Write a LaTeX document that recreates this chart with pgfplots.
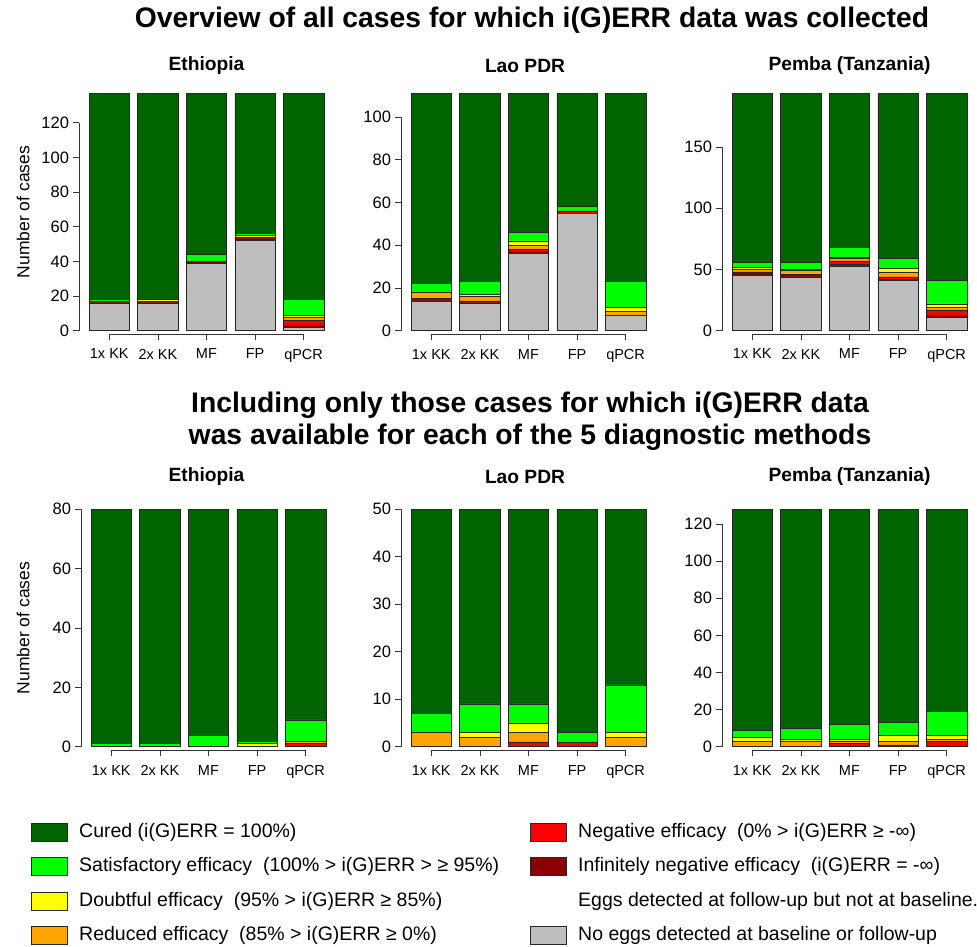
\documentclass[border=0pt]{standalone}
\usepackage{pgfplots}
\pgfplotsset{compat=1.18}
\usepackage{pgfplotstable}
\usepackage{fontspec}
\setmainfont{Liberation Sans}

\definecolor{cured}{HTML}{006400}
\definecolor{satis}{HTML}{00FF00}
\definecolor{doubt}{HTML}{FFFF00}
\definecolor{reduc}{HTML}{FFA500}
\definecolor{neg}{HTML}{FF0000}
\definecolor{infneg}{HTML}{8B0000}
\definecolor{noegg}{HTML}{BEBEBE}

% stack order from the bottom: no eggs, inf. negative, negative, reduced, doubtful, satisfactory, cured
\pgfplotstableread{
x grey dred red orng yell lgrn cure
0 16 1 0 0 0 1 119
1 16 1 0 0 1 0 119
2 39 1 0 0 0 4 93
3 52 2 0 0 1 1 81
4 2 1 3 2 1 9 119
}\topeth
\pgfplotstableread{
x grey dred red orng yell lgrn cure
0 14 1 0 3 0 4 89
1 13 1 0 2 1 6 88
2 36 1 1 2 2 4 65
3 55 0 1 0 0 2 53
4 7 0 0 2 2 12 88
}\toplao
\pgfplotstableread{
x grey dred red orng yell lgrn cure
0 45 3 0 2 2 4 138
1 44 1 1 3 1 6 138
2 53 1 3 2 1 8 126
3 41 1 2 4 3 8 135
4 11 2 4 2 3 19 153
}\toppem
\pgfplotstableread{
x grey dred red orng yell lgrn cure
0 0 0 0 0 0 1 79
1 0 0 0 0 0 1 79
2 0 0 0 0 0 4 76
3 0 0 0 0 1 1 78
4 0 0 1 1 0 7 71
}\boteth
\pgfplotstableread{
x grey dred red orng yell lgrn cure
0 0 0 0 3 0 4 43
1 0 0 0 2 1 6 41
2 0 0 1 2 2 4 41
3 0 0 1 0 0 2 47
4 0 0 0 2 1 10 37
}\botlao
\pgfplotstableread{
x grey dred red orng yell lgrn cure
0 0 0 0 3 2 4 119
1 0 0 0 3 1 6 118
2 0 0 2 1 1 8 116
3 0 0 1 2 3 7 115
4 0 0 3 1 2 13 109
}\botpem

\pgfplotsset{
  panel/.style={
    scale only axis, width=245pt, height=240.7pt,
    anchor=south west,
    xmin=-0.623, xmax=4.42,
    ybar stacked, bar width=40.5pt,
    clip=false,
    axis lines*=left, axis line style={draw=none},
    xtick={0,...,4}, xticklabels={1x KK,2x KK,MF,FP,qPCR},
    tick align=outside, major tick length=6.5pt,
    tick style={black!80, line width=0.6pt},
    xticklabel style={font=\fontsize{14.5}{17}\selectfont, yshift=-5pt},
    yticklabel style={font=\fontsize{16.5}{19}\selectfont},
    /pgf/number format/assume math mode=true,
    every axis plot/.append style={draw=black!85, line width=0.5pt},
  },
}

\newcommand{\stack}[1]{%
  \addplot[fill=noegg] table[x=x,y=grey]{#1};
  \addplot[fill=infneg] table[x=x,y=dred]{#1};
  \addplot[fill=neg] table[x=x,y=red]{#1};
  \addplot[fill=reduc] table[x=x,y=orng]{#1};
  \addplot[fill=doubt] table[x=x,y=yell]{#1};
  \addplot[fill=satis] table[x=x,y=lgrn]{#1};
  \addplot[fill=cured] table[x=x,y=cure]{#1};
}

% #1 x, #2 y of the box, #3 ymin, #4 ymax, #5 ticks, #6 table, #7 top tick
\newcommand{\panel}[7]{%
  \begin{axis}[panel, at={(#1pt,#2pt)}, ymin=#3, ymax=#4, ytick={#5}]
    \stack{#6}
    \draw[black!80, line width=0.6pt] ({rel axis cs:0,0} |- {axis cs:0,0}) -- ({rel axis cs:0,0} |- {axis cs:0,#7});
    \draw[black!80, line width=0.6pt] ({axis cs:0,0} |- {rel axis cs:0,0}) -- ({axis cs:4,0} |- {rel axis cs:0,0});
  \end{axis}
}

\newcommand{\leg}[3]{% x, y, colour
  \draw[fill=#3, draw=black!85, line width=0.6pt] (#1,#2-9) rectangle (#1+36,#2+9);
}

\begin{document}
\begin{tikzpicture}[x=1pt, y=1pt]
\path[use as bounding box] (0,0) rectangle (977,947);

\panel{79}{613}{-1.90}{137}{0,20,...,120}{\topeth}{120}
\panel{401}{613}{-1.54}{111}{0,20,...,100}{\toplao}{100}
\panel{722}{613}{-2.70}{194}{0,50,100,150}{\toppem}{150}
\panel{81}{197}{-1.11}{80}{0,20,...,80}{\boteth}{80}
\panel{401}{197}{-0.70}{50}{0,10,...,50}{\botlao}{50}
\panel{722}{197}{-1.78}{128}{0,20,...,120}{\botpem}{120}

% titles
\node[font=\fontsize{28.3}{32}\selectfont\bfseries] at (532,927) {Overview of all cases for which i(G)ERR data was collected};
\node[font=\fontsize{28.3}{32}\selectfont\bfseries] at (530,542) {Including only those cases for which i(G)ERR data};
\node[font=\fontsize{28.3}{32}\selectfont\bfseries] at (530,510) {was available for each of the 5 diagnostic methods};

\foreach \y in {881,470} {
  \node[font=\fontsize{19.2}{22}\selectfont\bfseries] at (206.5,\y) {Ethiopia};
  \node[font=\fontsize{19.2}{22}\selectfont\bfseries] at (525,\y) {Lao PDR};
  \node[font=\fontsize{19.2}{22}\selectfont\bfseries] at (849.5,\y) {Pemba (Tanzania)};
}
\node[rotate=90, font=\fontsize{17.5}{20}\selectfont] at (23,735) {Number of cases};
\node[rotate=90, font=\fontsize{17.5}{20}\selectfont] at (23,319) {Number of cases};

% legend
\leg{31}{115}{cured}
\leg{31}{80.5}{satis}
\leg{31}{46}{doubt}
\leg{31}{12}{reduc}
\leg{530}{115}{neg}
\leg{530}{80.5}{infneg}
\leg{530}{12}{noegg}
\begin{scope}[every node/.style={anchor=west, inner sep=0pt, font=\fontsize{19.5}{22}\selectfont}]
\node at (79,115) {Cured (i(G)ERR = 100\%)};
\node at (79,80.5) {Satisfactory efficacy\ \ (100\% > i(G)ERR > ≥ 95\%)};
\node at (79,46) {Doubtful efficacy\ \ (95\% > i(G)ERR ≥ 85\%)};
\node at (79,12) {Reduced efficacy\ \ (85\% > i(G)ERR ≥ 0\%)};
\node at (578,115) {Negative efficacy\ \ (0\% > i(G)ERR ≥ -∞)};
\node at (578,80.5) {Infinitely negative efficacy\ \ (i(G)ERR = -∞)};
\node at (578,46) {Eggs detected at follow-up but not at baseline.};
\node at (578,12) {No eggs detected at baseline or follow-up};
\end{scope}
\end{tikzpicture}
\end{document}
